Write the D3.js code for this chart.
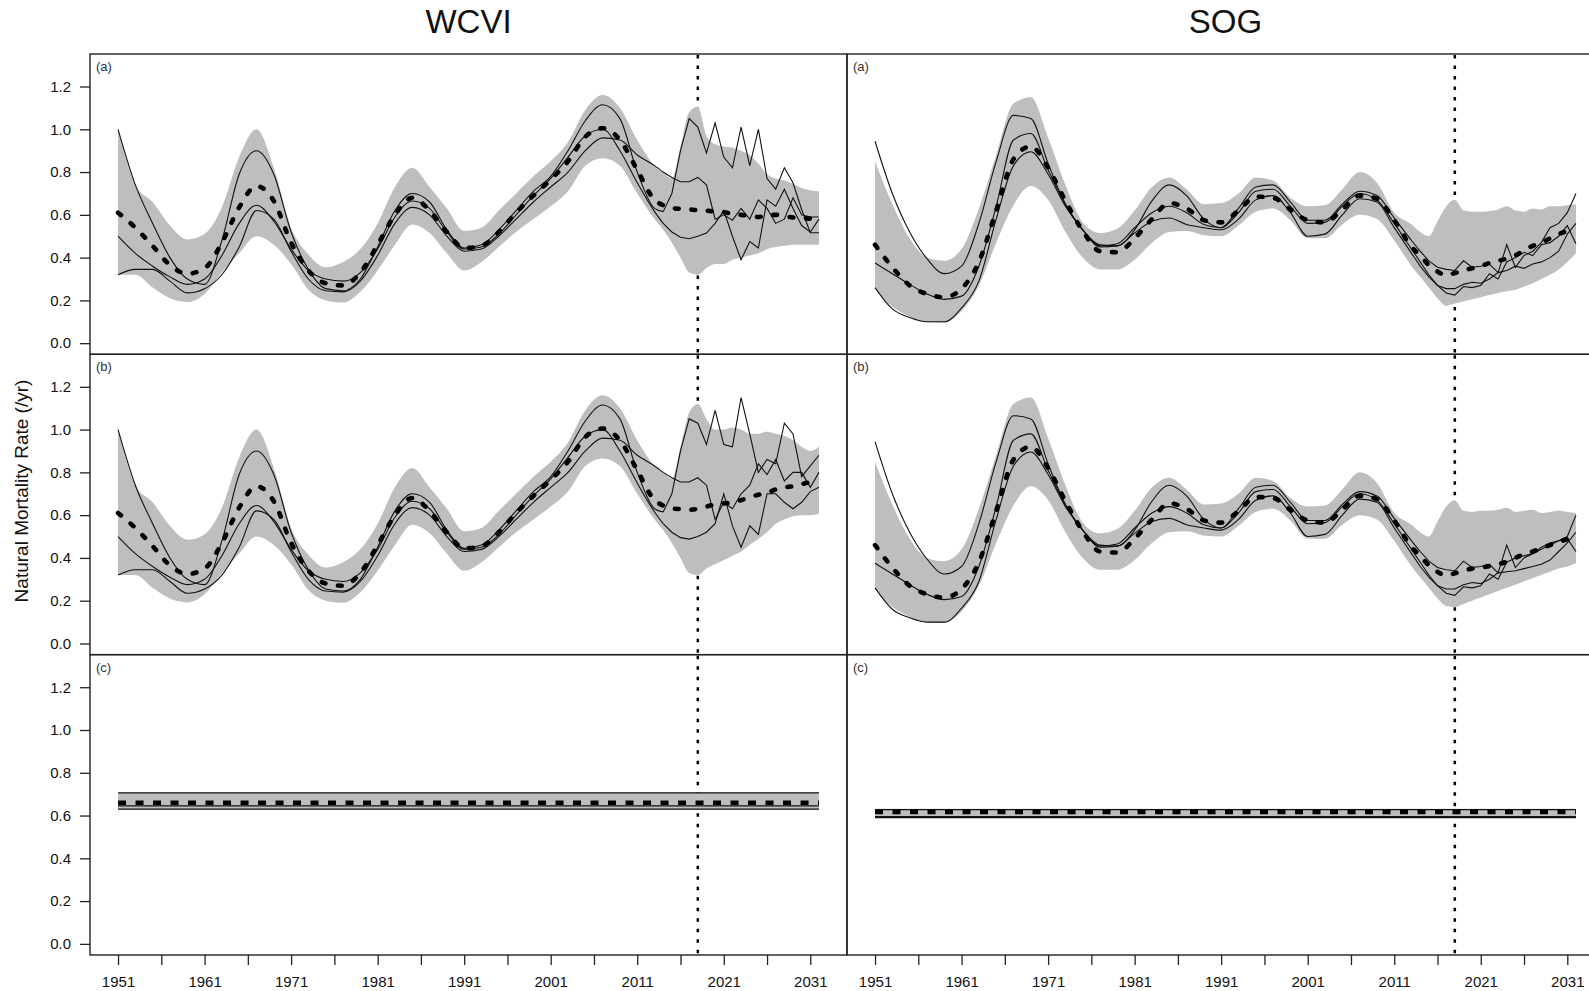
<!DOCTYPE html>
<html>
<head>
<meta charset="utf-8">
<script src="https://cdn.jsdelivr.net/npm/d3@7"></script>
<style>
  body { margin: 0; background: #fff; }
  text { font-family: "Liberation Sans", Arial, sans-serif; fill: #111; }
</style>
</head>
<body>
<svg id="chart"></svg>
<script>
// Years: smooth historical part every 2 years, then annual; projections from 2018
const histYears = [1951, 1953, 1955, 1957, 1959, 1961, 1963, 1965, 1967, 1969, 1971, 1973, 1975, 1977, 1979, 1981,
  1983, 1985, 1987, 1989, 1991, 1993, 1995, 1997, 1999, 2001, 2003, 2005, 2007, 2009, 2011, 2013, 2014, 2015, 2016, 2017];
const projYears = [2018, 2019, 2020, 2021, 2022, 2023, 2024, 2025, 2026, 2027, 2028, 2029, 2030, 2031, 2032];
const constYears = [1951, 2032];
const projStart = 2018;

// WCVI, historical (shared by panels a and b)
const wcviMedHist = [0.61, 0.54, 0.455, 0.365, 0.325, 0.35, 0.47, 0.635, 0.735, 0.665, 0.47, 0.34, 0.28, 0.27, 0.33, 0.46,
  0.6, 0.68, 0.62, 0.52, 0.445, 0.455, 0.52, 0.61, 0.69, 0.765, 0.85, 0.965, 1.005, 0.95, 0.81, 0.67, 0.645, 0.632, 0.628, 0.625];
const wcviHiHist = [1.0, 0.74, 0.66, 0.55, 0.485, 0.51, 0.635, 0.87, 1.0, 0.82, 0.54, 0.415, 0.355, 0.38, 0.44, 0.56,
  0.73, 0.82, 0.73, 0.63, 0.525, 0.54, 0.62, 0.7, 0.78, 0.85, 0.94, 1.09, 1.16, 1.1, 0.95, 0.83, 0.8, 0.77, 0.92, 1.08];
const wcviLoHist = [0.32, 0.32, 0.26, 0.21, 0.192, 0.23, 0.33, 0.42, 0.5, 0.46, 0.37, 0.25, 0.2, 0.19, 0.24, 0.34,
  0.46, 0.555, 0.515, 0.42, 0.34, 0.38, 0.45, 0.52, 0.58, 0.64, 0.71, 0.83, 0.865, 0.83, 0.7, 0.58, 0.53, 0.47, 0.4, 0.33];
const wcviT1Hist = [1.0, 0.74, 0.56, 0.4, 0.3, 0.275, 0.48, 0.79, 0.9, 0.79, 0.52, 0.345, 0.255, 0.245, 0.3, 0.45,
  0.62, 0.7, 0.66, 0.53, 0.445, 0.46, 0.53, 0.62, 0.71, 0.78, 0.9, 1.04, 1.115, 1.05, 0.8, 0.63, 0.615, 0.7, 0.9, 1.05];
const wcviT2Hist = [0.5, 0.42, 0.36, 0.31, 0.275, 0.3, 0.41, 0.56, 0.645, 0.57, 0.44, 0.34, 0.3, 0.29, 0.33, 0.44,
  0.59, 0.665, 0.63, 0.52, 0.44, 0.45, 0.51, 0.6, 0.69, 0.77, 0.87, 0.97, 1.0, 0.9, 0.75, 0.615, 0.56, 0.52, 0.495, 0.488];
const wcviT3Hist = [0.32, 0.345, 0.345, 0.29, 0.235, 0.255, 0.32, 0.45, 0.62, 0.58, 0.43, 0.3, 0.245, 0.24, 0.29, 0.41,
  0.56, 0.635, 0.6, 0.5, 0.43, 0.44, 0.5, 0.58, 0.66, 0.73, 0.8, 0.9, 0.96, 0.95, 0.88, 0.83, 0.8, 0.775, 0.755, 0.755];

// WCVI projections, panel (a)
const wcviMedA = [0.622, 0.62, 0.615, 0.612, 0.605, 0.6, 0.595, 0.59, 0.597, 0.6, 0.594, 0.588, 0.585, 0.582, 0.578];
const wcviHiA = [1.105, 0.97, 0.93, 0.92, 0.915, 0.9, 0.88, 0.84, 0.79, 0.77, 0.76, 0.745, 0.725, 0.715, 0.71];
const wcviLoA = [0.32, 0.35, 0.37, 0.37, 0.39, 0.4, 0.41, 0.42, 0.44, 0.45, 0.455, 0.46, 0.46, 0.46, 0.46];
const wcviT1A = [1.01, 0.89, 1.03, 0.87, 0.82, 1.01, 0.83, 1.0, 0.77, 0.72, 0.82, 0.75, 0.625, 0.516, 0.516];
const wcviT2A = [0.5, 0.515, 0.56, 0.62, 0.5, 0.39, 0.475, 0.445, 0.67, 0.64, 0.72, 0.63, 0.55, 0.52, 0.58];
const wcviT3A = [0.775, 0.74, 0.58, 0.6, 0.575, 0.63, 0.58, 0.67, 0.63, 0.56, 0.58, 0.68, 0.6, 0.59, 0.59];

// WCVI projections, panel (b)
const wcviMedB = [0.63, 0.64, 0.65, 0.655, 0.66, 0.67, 0.685, 0.695, 0.705, 0.72, 0.73, 0.735, 0.745, 0.755, 0.765];
const wcviHiB = [1.12, 1.05, 1.0, 1.0, 1.01, 1.0, 0.98, 0.98, 0.99, 0.98, 0.97, 0.95, 0.92, 0.9, 0.92];
const wcviLoB = [0.32, 0.35, 0.37, 0.39, 0.41, 0.43, 0.46, 0.49, 0.52, 0.56, 0.58, 0.595, 0.6, 0.6, 0.605];
const wcviT1B = [1.03, 0.93, 1.09, 0.93, 0.92, 1.15, 0.98, 0.8, 0.86, 0.84, 1.03, 0.98, 0.78, 0.83, 0.88];
const wcviT2B = [0.5, 0.52, 0.56, 0.7, 0.55, 0.45, 0.55, 0.51, 0.7, 0.7, 0.66, 0.63, 0.66, 0.71, 0.73];
const wcviT3B = [0.775, 0.74, 0.58, 0.66, 0.63, 0.7, 0.74, 0.84, 0.79, 0.86, 0.76, 0.8, 0.8, 0.73, 0.8];

// SOG, historical (shared by panels a and b)
const sogMedHist = [0.46, 0.355, 0.27, 0.23, 0.215, 0.255, 0.38, 0.62, 0.86, 0.92, 0.82, 0.665, 0.525, 0.43, 0.425, 0.49,
  0.58, 0.655, 0.63, 0.575, 0.565, 0.62, 0.685, 0.68, 0.625, 0.575, 0.565, 0.625, 0.69, 0.675, 0.575, 0.45, 0.41, 0.365, 0.335, 0.318];
const sogHiHist = [0.85, 0.65, 0.49, 0.4, 0.385, 0.44, 0.63, 0.88, 1.12, 1.15, 0.96, 0.74, 0.565, 0.515, 0.535, 0.62,
  0.73, 0.775, 0.72, 0.65, 0.655, 0.7, 0.775, 0.76, 0.68, 0.64, 0.645, 0.72, 0.8, 0.75, 0.61, 0.555, 0.52, 0.5, 0.57, 0.64];
const sogLoHist = [0.255, 0.17, 0.125, 0.098, 0.097, 0.15, 0.27, 0.47, 0.645, 0.735, 0.67, 0.52, 0.4, 0.345, 0.345, 0.39,
  0.47, 0.52, 0.525, 0.505, 0.5, 0.55, 0.615, 0.63, 0.575, 0.49, 0.49, 0.555, 0.6, 0.58, 0.48, 0.36, 0.31, 0.26, 0.21, 0.175];
const sogT1Hist = [0.944, 0.7, 0.52, 0.395, 0.325, 0.36, 0.56, 0.85, 1.065, 1.05, 0.84, 0.65, 0.53, 0.46, 0.455, 0.53,
  0.665, 0.74, 0.69, 0.58, 0.54, 0.63, 0.73, 0.74, 0.66, 0.575, 0.575, 0.65, 0.71, 0.69, 0.585, 0.48, 0.43, 0.385, 0.355, 0.345];
const sogT2Hist = [0.375, 0.325, 0.275, 0.23, 0.205, 0.22, 0.36, 0.64, 0.95, 0.98, 0.81, 0.65, 0.53, 0.455, 0.465, 0.54,
  0.61, 0.64, 0.61, 0.555, 0.54, 0.61, 0.71, 0.72, 0.64, 0.56, 0.565, 0.64, 0.7, 0.67, 0.56, 0.44, 0.38, 0.32, 0.27, 0.235];
const sogT3Hist = [0.26, 0.16, 0.12, 0.1, 0.1, 0.165, 0.29, 0.58, 0.83, 0.895, 0.79, 0.64, 0.53, 0.45, 0.455, 0.515,
  0.57, 0.585, 0.555, 0.54, 0.53, 0.58, 0.67, 0.69, 0.61, 0.5, 0.51, 0.6, 0.675, 0.66, 0.54, 0.42, 0.36, 0.31, 0.27, 0.255];

// SOG projections, panel (a)
const sogMedA = [0.328, 0.34, 0.35, 0.36, 0.375, 0.385, 0.395, 0.41, 0.435, 0.455, 0.47, 0.49, 0.51, 0.525, 0.54];
const sogHiA = [0.67, 0.62, 0.615, 0.615, 0.617, 0.625, 0.64, 0.62, 0.615, 0.63, 0.625, 0.64, 0.64, 0.645, 0.65];
const sogLoA = [0.185, 0.195, 0.205, 0.215, 0.225, 0.235, 0.243, 0.25, 0.265, 0.28, 0.3, 0.32, 0.345, 0.38, 0.42];
const sogT1A = [0.34, 0.385, 0.355, 0.36, 0.37, 0.33, 0.46, 0.355, 0.41, 0.43, 0.47, 0.54, 0.56, 0.61, 0.7];
const sogT2A = [0.225, 0.265, 0.26, 0.27, 0.325, 0.3, 0.38, 0.4, 0.425, 0.41, 0.46, 0.47, 0.5, 0.55, 0.465];
const sogT3A = [0.255, 0.275, 0.285, 0.28, 0.3, 0.33, 0.34, 0.36, 0.35, 0.37, 0.38, 0.4, 0.43, 0.51, 0.56];

// SOG projections, panel (b)
const sogMedB = [0.328, 0.34, 0.35, 0.355, 0.362, 0.37, 0.383, 0.4, 0.418, 0.43, 0.445, 0.46, 0.475, 0.487, 0.495];
const sogHiB = [0.67, 0.62, 0.615, 0.62, 0.62, 0.625, 0.635, 0.615, 0.62, 0.625, 0.61, 0.615, 0.62, 0.615, 0.61];
const sogLoB = [0.17, 0.185, 0.2, 0.215, 0.23, 0.245, 0.26, 0.275, 0.29, 0.305, 0.32, 0.335, 0.35, 0.36, 0.375];
const sogT1B = [0.34, 0.385, 0.355, 0.36, 0.37, 0.33, 0.46, 0.355, 0.4, 0.42, 0.44, 0.46, 0.48, 0.5, 0.6];
const sogT2B = [0.225, 0.265, 0.26, 0.27, 0.325, 0.3, 0.38, 0.4, 0.41, 0.42, 0.45, 0.47, 0.48, 0.49, 0.43];
const sogT3B = [0.255, 0.275, 0.285, 0.28, 0.3, 0.33, 0.335, 0.34, 0.35, 0.36, 0.37, 0.39, 0.43, 0.47, 0.52];

// Panel (c): constant natural mortality
const wcviConstBand = [0.63, 0.706];
const wcviConstMed = 0.66;
const wcviConstTraj = [0.706, 0.645, 0.63];
const sogConstBand = [0.588, 0.632];
const sogConstMed = 0.617;
const sogConstTraj = [0.628, 0.595, 0.59];

const regions = ["WCVI", "SOG"];
const panelLabels = ["(a)", "(b)", "(c)"];
const yTicks = [0, 0.2, 0.4, 0.6, 0.8, 1.0, 1.2];
const xTicks = d3.range(1951, 2032, 5);

// Layout
const W = 1589, H = 991;
const colX = [90, 847], colW = 757;
const rowY = [54, 354.3, 654.7], rowH = 300.3;

const x = d3.scaleLinear().domain([1947.76, 2035.24]).range([0, colW]);
const y = d3.scaleLinear().domain([-0.052, 1.352]).range([rowH, 0]);

const svg = d3.select("#chart").attr("width", W).attr("height", H);

const years = histYears.concat(projYears);
const splitIdx = years.indexOf(2014);

const series = (hist, proj) => ({
  med: hist.med.concat(proj.med),
  lo: hist.lo.concat(proj.lo),
  hi: hist.hi.concat(proj.hi),
  traj: hist.traj.map((t, i) => t.concat(proj.traj[i])),
});

const wcviHist = { med: wcviMedHist, lo: wcviLoHist, hi: wcviHiHist, traj: [wcviT1Hist, wcviT2Hist, wcviT3Hist] };
const sogHist = { med: sogMedHist, lo: sogLoHist, hi: sogHiHist, traj: [sogT1Hist, sogT2Hist, sogT3Hist] };

const panelData = [
  [
    series(wcviHist, { med: wcviMedA, lo: wcviLoA, hi: wcviHiA, traj: [wcviT1A, wcviT2A, wcviT3A] }),
    series(wcviHist, { med: wcviMedB, lo: wcviLoB, hi: wcviHiB, traj: [wcviT1B, wcviT2B, wcviT3B] }),
    { constant: true, band: wcviConstBand, med: wcviConstMed, traj: wcviConstTraj },
  ],
  [
    series(sogHist, { med: sogMedA, lo: sogLoA, hi: sogHiA, traj: [sogT1A, sogT2A, sogT3A] }),
    series(sogHist, { med: sogMedB, lo: sogLoB, hi: sogHiB, traj: [sogT1B, sogT2B, sogT3B] }),
    { constant: true, band: sogConstBand, med: sogConstMed, traj: sogConstTraj },
  ],
];

const smoothLine = d3.line().x((d) => x(d[0])).y((d) => y(d[1])).curve(d3.curveMonotoneX);
const straightLine = d3.line().x((d) => x(d[0])).y((d) => y(d[1]));
const band = d3.area().x((d) => x(d[0])).y0((d) => y(d[1])).y1((d) => y(d[2])).curve(d3.curveMonotoneX);

const drawPanel = (g, p) => {
  // projection start marker, drawn under the envelope
  g.append("line")
    .attr("x1", x(projStart)).attr("x2", x(projStart))
    .attr("y1", 1).attr("y2", rowH)
    .attr("stroke", "#000").attr("stroke-width", 2.5)
    .attr("stroke-dasharray", "3.5,7");

  if (p.constant) {
    g.append("path")
      .attr("d", band(constYears.map((yr) => [yr, p.band[0], p.band[1]])))
      .attr("fill", "#bebebe");
    p.traj.forEach((v) => {
      g.append("path")
        .attr("d", straightLine(constYears.map((yr) => [yr, v])))
        .attr("fill", "none").attr("stroke", "#111").attr("stroke-width", 1.3);
    });
    g.append("path")
      .attr("d", straightLine(constYears.map((yr) => [yr, p.med])))
      .attr("fill", "none").attr("stroke", "#000").attr("stroke-width", 4.5)
      .attr("stroke-dasharray", "8,9.5");
    return;
  }

  g.append("path")
    .attr("d", band(years.map((yr, i) => [yr, p.lo[i], p.hi[i]])))
    .attr("fill", "#bebebe");

  p.traj.forEach((t) => {
    const pts = years.map((yr, i) => [yr, t[i]]);
    g.append("path")
      .attr("d", smoothLine(pts.slice(0, splitIdx + 1)))
      .attr("fill", "none").attr("stroke", "#111").attr("stroke-width", 1.1);
    g.append("path")
      .attr("d", straightLine(pts.slice(splitIdx)))
      .attr("fill", "none").attr("stroke", "#111").attr("stroke-width", 1.1);
  });

  g.append("path")
    .attr("d", smoothLine(years.map((yr, i) => [yr, p.med[i]])))
    .attr("fill", "none").attr("stroke", "#000").attr("stroke-width", 4.6)
    .attr("stroke-linecap", "round")
    .attr("stroke-dasharray", "3.8,12.7");
};

regions.forEach((region, c) => {
  panelLabels.forEach((label, r) => {
    const g = svg.append("g").attr("transform", `translate(${colX[c]},${rowY[r]})`);
    drawPanel(g, panelData[c][r]);

    g.append("rect")
      .attr("width", colW).attr("height", rowH)
      .attr("fill", "none").attr("stroke", "#222").attr("stroke-width", 1.4);

    g.append("text")
      .attr("x", 6).attr("y", 17)
      .style("font-size", "13px").style("fill", "#333")
      .text(label);

    if (c === 0) {
      const ay = g.append("g").call(
        d3.axisLeft(y).tickValues(yTicks).tickFormat(d3.format(".1f")).tickSize(10).tickPadding(9)
      );
      ay.select(".domain").remove();
      ay.selectAll("line").attr("stroke", "#222").attr("stroke-width", 1.3);
      ay.selectAll("text").style("font-size", "15px").style("font-family", null).attr("fill", "#222");
    }

    if (r === 2) {
      const ax = g.append("g").attr("transform", `translate(0,${rowH})`).call(
        d3.axisBottom(x).tickValues(xTicks)
          .tickFormat((d) => ((d - 1951) % 10 === 0 ? d : ""))
          .tickSize(10).tickPadding(11)
      );
      ax.select(".domain").remove();
      ax.selectAll("line").attr("stroke", "#222").attr("stroke-width", 1.3);
      ax.selectAll("text").style("font-size", "15px").style("font-family", null).attr("fill", "#222");
    }
  });

  svg.append("text")
    .attr("x", colX[c] + colW / 2).attr("y", 33)
    .attr("text-anchor", "middle")
    .style("font-size", "33px")
    .text(region);
});

svg.append("text")
  .attr("transform", "translate(28,491) rotate(-90)")
  .attr("text-anchor", "middle")
  .style("font-size", "19px")
  .text("Natural Mortality Rate (/yr)");
</script>
</body>
</html>
